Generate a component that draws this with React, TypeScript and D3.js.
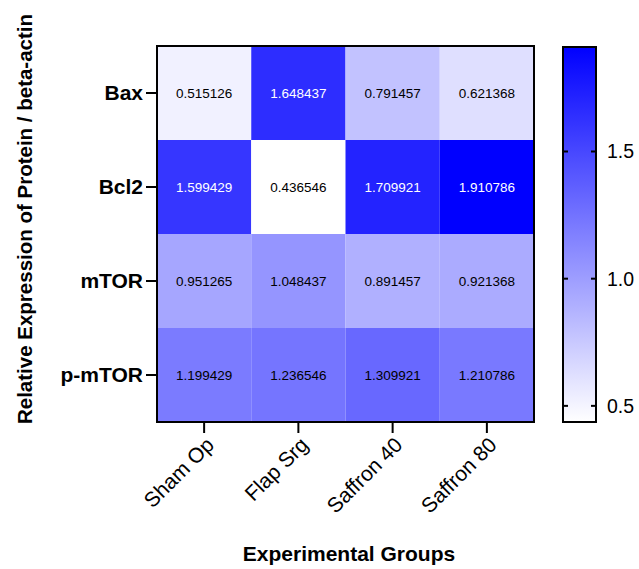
import React from "react";
import * as d3 from "d3";

const groups = ["Sham Op", "Flap Srg", "Saffron 40", "Saffron 80"];
const proteins = ["Bax", "Bcl2", "mTOR", "p-mTOR"];
const baxValues = [0.515126, 1.648437, 0.791457, 0.621368];
const bcl2Values = [1.599429, 0.436546, 1.709921, 1.910786];
const mtorValues = [0.951265, 1.048437, 0.891457, 0.921368];
const pmtorValues = [1.199429, 1.236546, 1.309921, 1.210786];
const colorbarTicks = [0.5, 1.0, 1.5];

const rows = [baxValues, bcl2Values, mtorValues, pmtorValues];

const W = 639;
const H = 569;
const FONT = "'Liberation Sans', Arial, Helvetica, sans-serif";

export default function App() {
  const all = rows.flat();
  const vmin = d3.min(all) as number;
  const vmax = d3.max(all) as number;

  const x = d3.scaleBand<string>().domain(groups).range([157, 534]);
  const y = d3.scaleBand<string>().domain(proteins).range([46, 422]);
  const color = d3
    .scaleLinear<string>()
    .domain([vmin, vmax])
    .range(["#ffffff", "#0000ff"])
    .interpolate(d3.interpolateRgb);

  const cbX0 = 563;
  const cbX1 = 596;
  const cbY = d3.scaleLinear().domain([vmin, vmax]).range([422, 47]);

  const stops = d3.range(0, 1.0001, 0.1);

  return (
    <svg
      width={W}
      height={H}
      style={{ position: "absolute", left: 0, top: 0, background: "#fff" }}
      fontFamily={FONT}
    >
      <defs>
        <linearGradient id="cb" x1="0" y1="1" x2="0" y2="0">
          {stops.map((t) => (
            <stop
              key={t}
              offset={`${t * 100}%`}
              stopColor={color(vmin + t * (vmax - vmin))}
            />
          ))}
        </linearGradient>
      </defs>

      {/* cells */}
      {rows.map((vals, ri) =>
        vals.map((v, ci) => {
          const cx = x(groups[ci]) as number;
          const cy = y(proteins[ri]) as number;
          return (
            <g key={`${ri}-${ci}`}>
              <rect
                x={cx}
                y={cy}
                width={x.bandwidth()}
                height={y.bandwidth()}
                fill={color(v)}
              />
              <text
                x={cx + x.bandwidth() / 2}
                y={cy + y.bandwidth() / 2}
                dy="0.35em"
                textAnchor="middle"
                fontSize={13.5}
                fill={v > 1.4 ? "#ffffff" : "#000000"}
              >
                {v.toFixed(6)}
              </text>
            </g>
          );
        })
      )}
      <rect
        x={157}
        y={46}
        width={377}
        height={376}
        fill="none"
        stroke="#000"
        strokeWidth={2}
      />

      {/* y axis ticks & labels */}
      {proteins.map((p) => {
        const cy = (y(p) as number) + y.bandwidth() / 2;
        return (
          <g key={p}>
            <line x1={146} x2={157} y1={cy} y2={cy} stroke="#000" strokeWidth={2} />
            <text
              x={143}
              y={cy}
              dy="0.35em"
              textAnchor="end"
              fontSize={21}
              fontWeight="bold"
            >
              {p}
            </text>
          </g>
        );
      })}

      {/* x axis ticks & labels */}
      {groups.map((g) => {
        const cx = (x(g) as number) + x.bandwidth() / 2;
        return (
          <g key={g}>
            <line x1={cx} x2={cx} y1={422} y2={433} stroke="#000" strokeWidth={2} />
            <text
              transform={`translate(${cx + 6},${441}) rotate(-45)`}
              dy="0.35em"
              textAnchor="end"
              fontSize={21}
            >
              {g}
            </text>
          </g>
        );
      })}

      {/* axis titles */}
      <text
        x={349}
        y={561}
        textAnchor="middle"
        fontSize={21}
        fontWeight="bold"
      >
        Experimental Groups
      </text>
      <text
        transform={`translate(32,219) rotate(-90)`}
        textAnchor="middle"
        fontSize={20.5}
        fontWeight="bold"
      >
        Relative Expression of Protein / beta-actin
      </text>

      {/* colorbar */}
      <rect
        x={cbX0}
        y={47}
        width={cbX1 - cbX0}
        height={375}
        fill="url(#cb)"
        stroke="#000"
        strokeWidth={2}
      />
      {colorbarTicks.map((t) => {
        const ty = cbY(t);
        return (
          <g key={t}>
            <line x1={cbX0} x2={cbX0 + 5} y1={ty} y2={ty} stroke="#000" strokeWidth={2} />
            <line x1={cbX1 - 5} x2={cbX1} y1={ty} y2={ty} stroke="#000" strokeWidth={2} />
            <text x={607} y={ty} dy="0.35em" fontSize={19.5}>
              {t.toFixed(1)}
            </text>
          </g>
        );
      })}
    </svg>
  );
}
